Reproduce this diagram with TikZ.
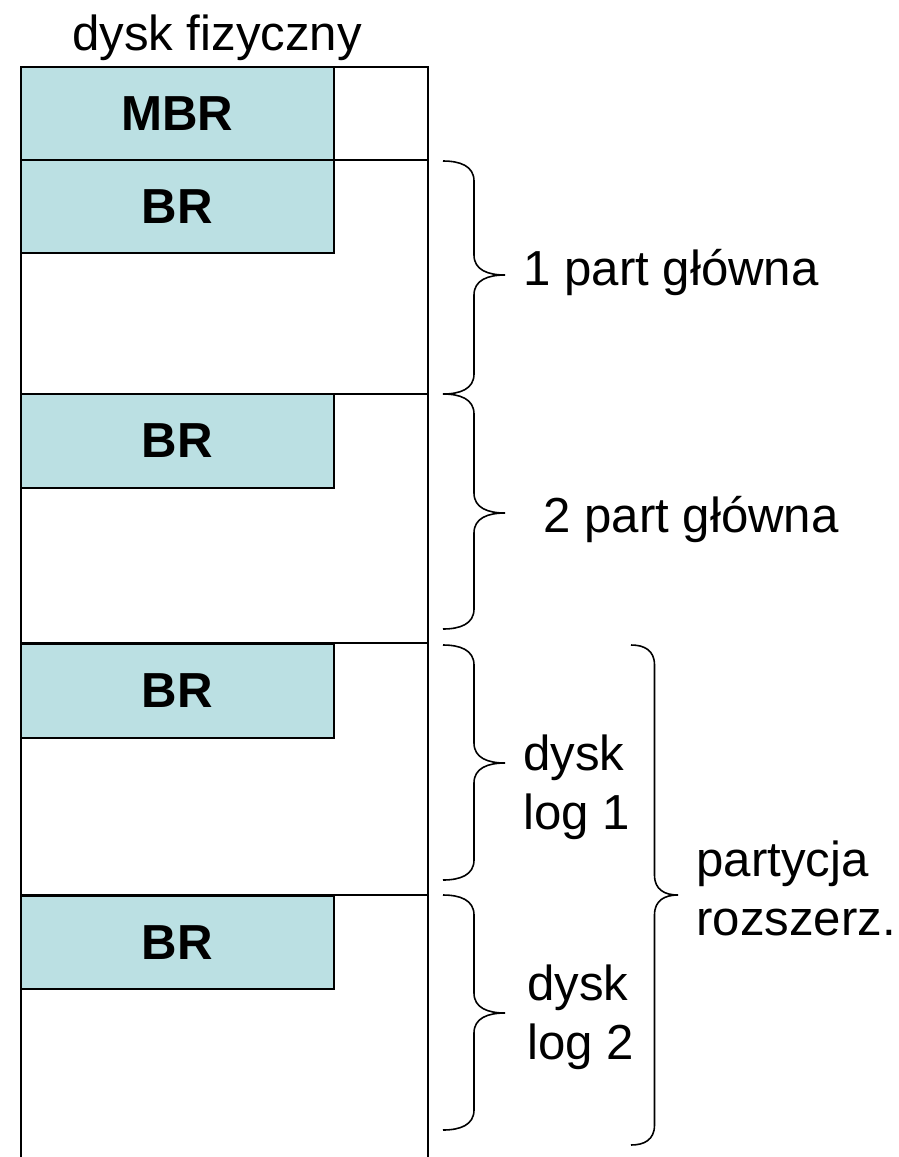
\documentclass[tikz,border=0pt]{standalone}
\usepackage{fontspec}
\setmainfont{Liberation Sans}
\definecolor{bootfill}{RGB}{187,224,227}
\newcommand{\duzy}{\fontsize{28pt}{33.6pt}\selectfont}

% curly brace opening to the right: left x, half width, top, tip, bottom
\newcommand{\klamra}[5]{%
  \draw[nawias] (#1,#3) .. controls ({#1+0.55*#2},#3) and ({#1+#2},{#3+5}) .. ({#1+#2},{#3+20})
    -- ({#1+#2},{#4-20}) .. controls ({#1+#2},{#4-5}) and ({#1+1.45*#2},#4) .. ({#1+2*#2},#4)
    .. controls ({#1+1.45*#2},#4) and ({#1+#2},{#4+5}) .. ({#1+#2},{#4+20})
    -- ({#1+#2},{#5-20}) .. controls ({#1+#2},{#5-5}) and ({#1+0.55*#2},#5) .. (#1,#5);}

\tikzset{
  linia/.style={line width=1.1pt},
  nawias/.style={line width=0.9pt},
  sektor/.style={draw, line width=1.1pt, fill=bootfill, font=\duzy\bfseries,
    minimum width=6.26cm, minimum height=1.87cm},
  opis/.style={inner sep=0pt, align=left},
}

\begin{document}
\begin{tikzpicture}[x=0.02cm, y=-0.02cm, font=\duzy]
  \useasboundingbox (0,0) rectangle (899,1157);

  % boot records
  \node[sektor] (mbr) at (177.5,113.5) {MBR};
  \foreach \y/\n in {206.5/1,441/2,691/3,942.5/4}
    \node[sektor] (br\n) at (177.5,\y) {BR};

  % the disk itself
  \draw[linia] (21,1157) -- (21,67) -- (428,67) -- (428,1157);
  \foreach \y in {160,394,643,895}
    \draw[linia] (21,\y) -- (428,\y);

  \node[anchor=base] (dysk) at (217,50) {dysk fizyczny};

  % partitions
  \klamra{443}{31}{161}{275}{394}
  \klamra{443}{31}{394}{513}{629}
  \klamra{443}{31}{645}{763}{880}
  \klamra{443}{31}{895}{1013}{1130}
  \klamra{631}{23.5}{645}{895}{1145}

  \node[opis, anchor=base west] (p1) at (523,285) {1 part główna};
  \node[opis, anchor=base west] (p2) at (543,532) {2 part główna};
  \node[opis, anchor=west] (log1) at (523,787) {dysk\\log 1};
  \node[opis, anchor=west] (log2) at (527,1017) {dysk\\log 2};
  \node[opis, anchor=west] (ext) at (696,888) {partycja\\rozszerz.};
\end{tikzpicture}
\end{document}
